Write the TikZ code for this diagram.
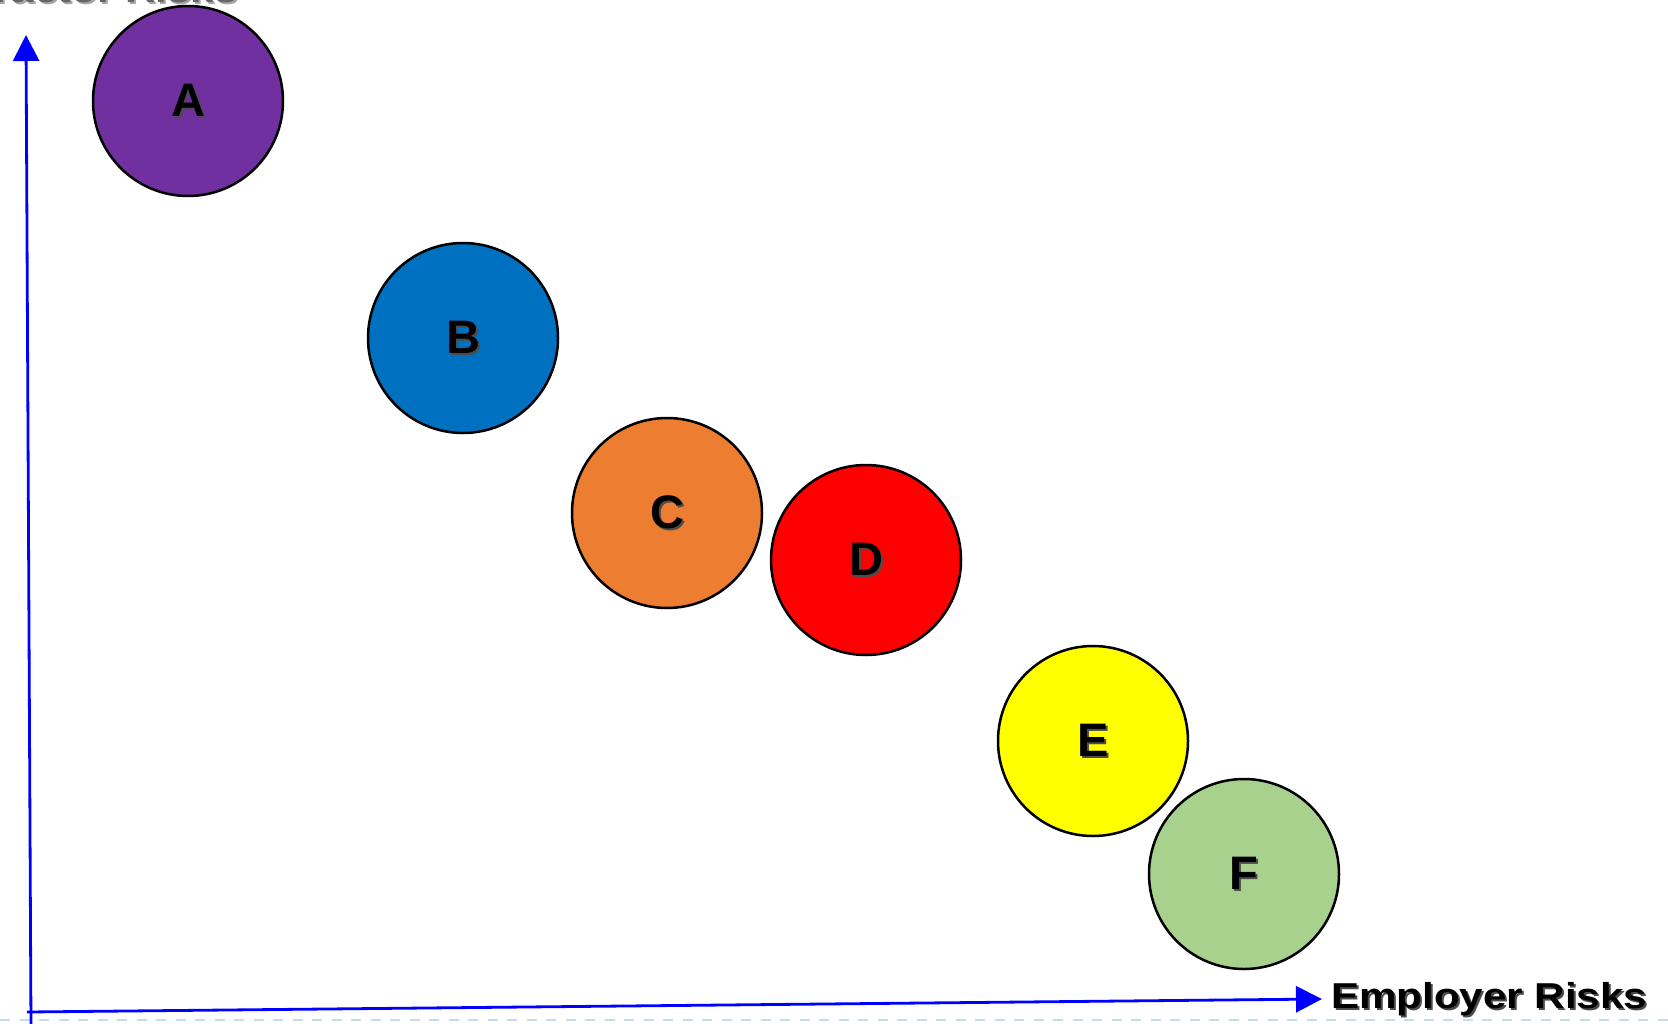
\documentclass[tikz,border=0pt]{standalone}
\usepackage{fontspec}
\setmainfont{Liberation Sans}
\newfontfamily\widefont[FakeStretch=1.17]{Liberation Sans}
\usetikzlibrary{arrows.meta}
\definecolor{cA}{HTML}{7030A0}
\definecolor{cB}{HTML}{0070C0}
\definecolor{cC}{HTML}{ED7D31}
\definecolor{cD}{HTML}{FF0000}
\definecolor{cE}{HTML}{FFFF00}
\definecolor{cF}{HTML}{A9D18E}
\definecolor{axisblue}{HTML}{0000FF}
\definecolor{dashblue}{RGB}{200,220,232}
\newcommand\shd[2][black!70]{\makebox[0pt][l]{\kern2pt\raisebox{-2pt}{\textcolor{#1}{#2}}}#2}
\tikzset{
  bubble/.style={circle, draw=black, line width=2.5pt, minimum size=190pt, inner sep=0pt,
    font=\fontsize{47}{47}\selectfont\bfseries},
  axisline/.style={draw=axisblue, line width=2.8pt, -{Triangle[length=26pt,width=26pt]}},
  axislabel/.style={font=\widefont\fontsize{36}{36}\selectfont\bfseries, inner sep=0pt}
}
\begin{document}
\begin{tikzpicture}[x=1pt,y=-1pt]
\useasboundingbox (0,0) rectangle (1668,1023);
\begin{scope}
\clip (0,0) rectangle (1668,1023);
% dashed line at the bottom
\draw[dashblue, line width=2pt, dash pattern=on 10pt off 9.5pt] (0,1020) -- (1668,1020);
% axes
\coordinate (yb) at (31,1026);
\coordinate (yt) at (26,35);
\coordinate (xb) at (27,1012);
\coordinate (xt) at (1322,999);
\draw[axisline] (yb) -- (yt);
\draw[axisline] (xb) -- (xt);
% labels
\node[axislabel, anchor=base west] (xl) at (1331,1008) {\shd{Employer Risks}};
\node[axislabel, anchor=base east, text=black!60] (yl) at (238,2.5) {\shd[black!35]{Contractor Risks}};
% bubbles
\node[bubble, fill=cA] (A) at (188,101) {\shd{A}};
\node[bubble, fill=cB] (B) at (463,338) {\shd{B}};
\node[bubble, fill=cC] (C) at (667,513) {\shd{C}};
\node[bubble, fill=cD] (D) at (866,560) {\shd{D}};
\node[bubble, fill=cE] (E) at (1093,741) {\shd{E}};
\node[bubble, fill=cF] (F) at (1244,874) {\shd{F}};
\end{scope}
\end{tikzpicture}
\end{document}
